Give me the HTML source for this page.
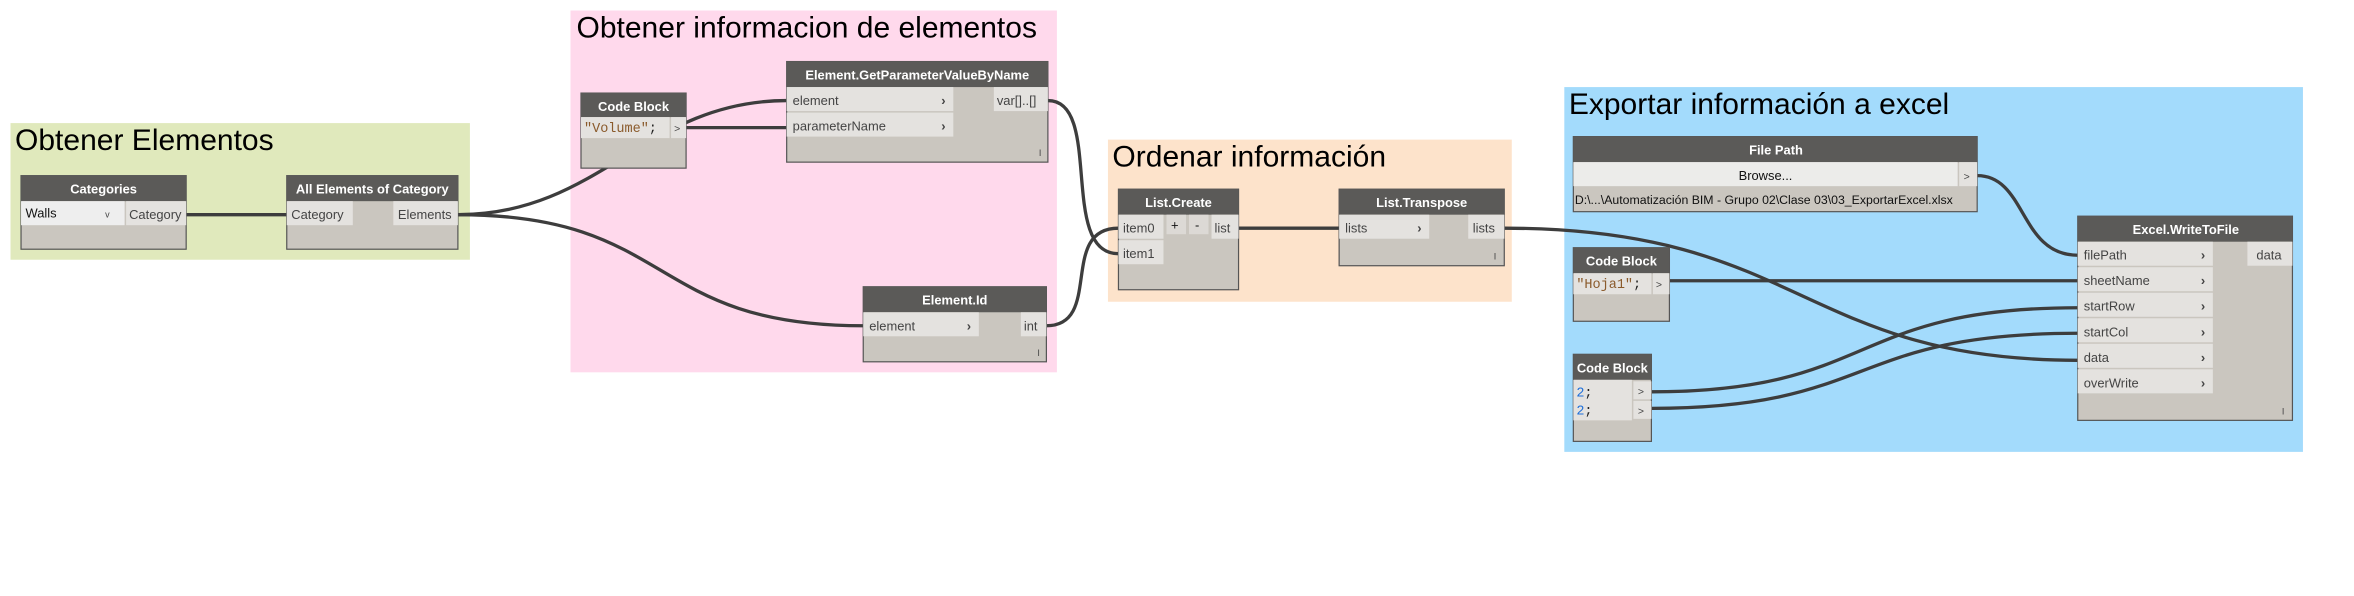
<!DOCTYPE html>
<html><head><meta charset="utf-8">
<style>
html,body{margin:0;padding:0;background:#fff;}
svg{display:block;}
text{font-family:"Liberation Sans",sans-serif;}
.h{fill:#fff;font-weight:bold;font-size:8.6px;text-anchor:middle;}
.p{fill:#444;font-size:8.6px;}
.g{fill:#000;font-size:20px;}
.m{font-family:"Liberation Mono",monospace;font-size:9px;}
.w{fill:none;stroke:#3d3d3d;stroke-width:2.2;}
.hd{fill:#5b5a58;}
.bd{fill:#cac6bf;stroke:#555;stroke-width:0.8;}
.pr{fill:#e4e2df;}
</style></head><body>
<svg width="2354" height="596" viewBox="0 0 1568 397" xmlns="http://www.w3.org/2000/svg">
<rect x="7" y="82" width="306" height="91" fill="#e0e9bc"/>
<text class="g" x="10" y="100">Obtener Elementos</text>
<rect x="380" y="7" width="324" height="241" fill="#ffd9ec"/>
<text class="g" x="384" y="25">Obtener informacion de elementos</text>
<rect x="738" y="93" width="269" height="108" fill="#fde3cb"/>
<text class="g" x="741" y="111">Ordenar información</text>
<rect x="1042" y="58" width="492" height="243" fill="#a3dbfc"/>
<text class="g" x="1045" y="76">Exportar información a excel</text>

<path class="w" d="M124,143 L191,143"/>
<path class="w" d="M305,143 C400,143 430,67 524,67"/>
<path class="w" d="M305,143 C450,143 430,217 575,217"/>
<path class="w" d="M457,85 L524,85"/>
<path class="w" d="M698,67 C735,67 705,169 745,169"/>
<path class="w" d="M697,217 C735,217 705,152 745,152"/>
<path class="w" d="M825,152 L892,152"/>
<path class="w" d="M1002,152 C1200,152 1200,240 1384,240"/>
<path class="w" d="M1317,117 C1350,117 1345,170 1384,170"/>
<path class="w" d="M1112,187 L1384,187"/>
<path class="w" d="M1100,261 C1250,261 1230,205 1384,205"/>
<path class="w" d="M1100,272 C1250,272 1230,222 1384,222"/>

<rect class="bd" x="14" y="117" width="110" height="49"/>
<rect class="hd" x="14" y="117" width="110" height="17"/>
<text class="h" x="69" y="129">Categories</text>
<rect x="14" y="134" width="69" height="16" fill="#eeeeee"/>
<text class="p" x="17" y="145" style="fill:#111">Walls</text>
<text class="p" x="70" y="145" style="font-size:6px">v</text>
<rect class="pr" x="84" y="134" width="40" height="16"/>
<text class="p" x="86" y="146">Category</text>

<rect class="bd" x="191" y="117" width="114" height="49"/>
<rect class="hd" x="191" y="117" width="114" height="17"/>
<text class="h" x="248" y="129">All Elements of Category</text>
<rect class="pr" x="191" y="134" width="44" height="16"/>
<text class="p" x="194" y="146">Category</text>
<rect class="pr" x="262" y="134" width="43" height="16"/>
<text class="p" x="265" y="146">Elements</text>

<rect class="bd" x="387" y="62" width="70" height="50"/>
<rect class="hd" x="387" y="62" width="70" height="16"/>
<text class="h" x="422" y="74">Code Block</text>
<rect class="pr" x="387" y="78" width="59" height="14"/>
<text class="m" x="389" y="88"><tspan fill="#8a5a2b">"Volume"</tspan><tspan fill="#222">;</tspan></text>
<rect class="pr" x="447" y="78" width="10" height="14"/>
<text class="p" x="449" y="88" style="font-size:7px">&gt;</text>

<rect class="bd" x="524" y="41" width="174" height="67"/>
<rect class="hd" x="524" y="41" width="174" height="17"/>
<text class="h" x="611" y="53">Element.GetParameterValueByName</text>
<rect class="pr" x="524" y="58" width="111" height="16"/>
<text class="p" x="528" y="70">element</text><text class="p" x="627" y="70" style="font-weight:bold">›</text>
<rect class="pr" x="524" y="75" width="111" height="16"/>
<text class="p" x="528" y="87">parameterName</text><text class="p" x="627" y="87" style="font-weight:bold">›</text>
<rect class="pr" x="662" y="58" width="36" height="16"/>
<text class="p" x="664" y="70">var[]..[]</text>
<text class="p" x="692" y="104" style="font-size:6px">I</text>

<rect class="bd" x="575" y="191" width="122" height="50"/>
<rect class="hd" x="575" y="191" width="122" height="17"/>
<text class="h" x="636" y="203">Element.Id</text>
<rect class="pr" x="575" y="208" width="77" height="16"/>
<text class="p" x="579" y="220">element</text><text class="p" x="644" y="220" style="font-weight:bold">›</text>
<rect class="pr" x="680" y="208" width="17" height="16"/>
<text class="p" x="682" y="220">int</text>
<text class="p" x="691" y="237" style="font-size:6px">I</text>

<rect class="bd" x="745" y="126" width="80" height="67"/>
<rect class="hd" x="745" y="126" width="80" height="17"/>
<text class="h" x="785" y="138">List.Create</text>
<rect class="pr" x="745" y="143" width="30" height="16"/>
<text class="p" x="748" y="155">item0</text>
<rect x="777" y="143" width="13" height="13" fill="#dcd9d5"/><text class="p" x="780" y="153" style="fill:#111">+</text>
<rect x="792" y="143" width="13" height="13" fill="#dcd9d5"/><text class="p" x="796" y="153" style="fill:#111">-</text>
<rect class="pr" x="807" y="143" width="18" height="16"/>
<text class="p" x="809" y="155">list</text>
<rect class="pr" x="745" y="160" width="30" height="16"/>
<text class="p" x="748" y="172">item1</text>

<rect class="bd" x="892" y="126" width="110" height="51"/>
<rect class="hd" x="892" y="126" width="110" height="17"/>
<text class="h" x="947" y="138">List.Transpose</text>
<rect class="pr" x="892" y="143" width="60" height="16"/>
<text class="p" x="896" y="155">lists</text><text class="p" x="944" y="155" style="font-weight:bold">›</text>
<rect class="pr" x="978" y="143" width="24" height="16"/>
<text class="p" x="981" y="155">lists</text>
<text class="p" x="995" y="173" style="font-size:6px">I</text>

<rect class="bd" x="1048" y="91" width="269" height="50"/>
<rect class="hd" x="1048" y="91" width="269" height="17"/>
<text class="h" x="1183" y="103">File Path</text>
<rect x="1048" y="108" width="256" height="16" fill="#ececea"/>
<text class="p" x="1176" y="120" style="fill:#111;text-anchor:middle">Browse...</text>
<rect class="pr" x="1305" y="108" width="12" height="16"/>
<text class="p" x="1308" y="120" style="font-size:7px">&gt;</text>
<text class="p" x="1049" y="136" style="fill:#111;font-size:8.2px">D:\...\Automatización BIM - Grupo 02\Clase 03\03_ExportarExcel.xlsx</text>

<rect class="bd" x="1048" y="165" width="64" height="49"/>
<rect class="hd" x="1048" y="165" width="64" height="17"/>
<text class="h" x="1080" y="177">Code Block</text>
<rect class="pr" x="1048" y="182" width="52" height="14"/>
<text class="m" x="1050" y="192"><tspan fill="#8a5a2b">"Hoja1"</tspan><tspan fill="#222">;</tspan></text>
<rect class="pr" x="1101" y="182" width="11" height="14"/>
<text class="p" x="1103" y="192" style="font-size:7px">&gt;</text>

<rect class="bd" x="1048" y="236" width="52" height="58"/>
<rect class="hd" x="1048" y="236" width="52" height="17"/>
<text class="h" x="1074" y="248">Code Block</text>
<rect class="pr" x="1048" y="253" width="39" height="27"/>
<text class="m" x="1050" y="264" fill="#1e6fd9">2<tspan fill="#222">;</tspan></text>
<text class="m" x="1050" y="276" fill="#1e6fd9">2<tspan fill="#222">;</tspan></text>
<rect class="pr" x="1088" y="254" width="12" height="12"/>
<rect class="pr" x="1088" y="267" width="12" height="12"/>
<text class="p" x="1091" y="263" style="font-size:7px">&gt;</text>
<text class="p" x="1091" y="276" style="font-size:7px">&gt;</text>

<rect class="bd" x="1384" y="144" width="143" height="136"/>
<rect class="hd" x="1384" y="144" width="143" height="17"/>
<text class="h" x="1456" y="156">Excel.WriteToFile</text>
<rect class="pr" x="1384" y="161" width="90" height="16"/>
<text class="p" x="1388" y="173">filePath</text><text class="p" x="1466" y="173" style="font-weight:bold">›</text>
<rect class="pr" x="1384" y="178" width="90" height="16"/>
<text class="p" x="1388" y="190">sheetName</text><text class="p" x="1466" y="190" style="font-weight:bold">›</text>
<rect class="pr" x="1384" y="195" width="90" height="16"/>
<text class="p" x="1388" y="207">startRow</text><text class="p" x="1466" y="207" style="font-weight:bold">›</text>
<rect class="pr" x="1384" y="212" width="90" height="16"/>
<text class="p" x="1388" y="224">startCol</text><text class="p" x="1466" y="224" style="font-weight:bold">›</text>
<rect class="pr" x="1384" y="229" width="90" height="16"/>
<text class="p" x="1388" y="241">data</text><text class="p" x="1466" y="241" style="font-weight:bold">›</text>
<rect class="pr" x="1384" y="246" width="90" height="16"/>
<text class="p" x="1388" y="258">overWrite</text><text class="p" x="1466" y="258" style="font-weight:bold">›</text>
<rect class="pr" x="1497" y="161" width="30" height="16"/>
<text class="p" x="1503" y="173">data</text>
<text class="p" x="1520" y="276" style="font-size:6px">I</text>
</svg>
</body></html>
